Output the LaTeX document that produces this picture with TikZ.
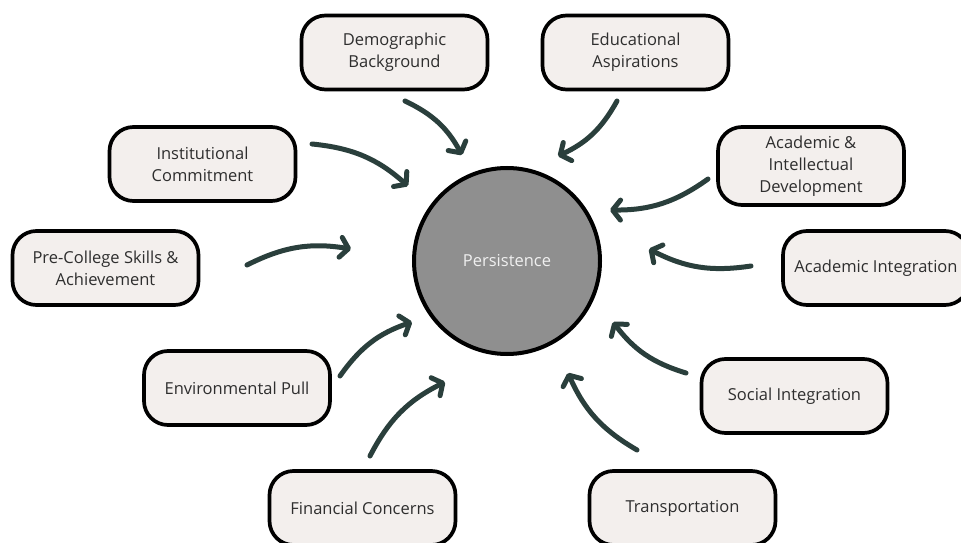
\documentclass[tikz,border=0pt]{standalone}
\usepackage{fontspec}
\setmainfont{Open Sans}
\usetikzlibrary{arrows.meta}
\definecolor{boxfill}{HTML}{F3EFED}
\definecolor{arrowc}{HTML}{2A3F3C}
\definecolor{txt}{HTML}{2E2E2E}
\definecolor{circfill}{HTML}{8F8F8F}
\begin{document}
\begin{tikzpicture}[x=1pt,y=1pt,
  factor/.style={draw=black, line width=3.7pt, fill=boxfill, rounded corners=24pt,
    minimum width=186pt, minimum height=74pt, align=center, text=txt,
    font=\fontsize{16.5}{22}\selectfont, inner sep=0pt},
  flow/.style={draw=arrowc, line width=5pt, line cap=round,
    -{Straight Barb[length=8pt,width=20pt,round]}},
]
\useasboundingbox (0,0) rectangle (961,542);
\clip (0,0) rectangle (961,542);
% centre
\node[circle, draw=black, line width=4pt, fill=circfill, minimum size=186pt,
  text=white!94!black, font=\fontsize{16.5}{20}\selectfont] (p) at (507,281) {Persistence};
% factors (y = 542 - screen y)
\node[factor] (demo) at (394.5,489.5) {Demographic\\Background};
\node[factor] (edu) at (635.5,489.5) {Educational\\Aspirations};
\node[factor] (inst) at (202.5,378) {Institutional\\Commitment};
\node[factor, minimum height=78pt] (acad) at (811,376) {Academic \&\\Intellectual\\Development};
\node[factor] (pre) at (105.5,274) {Pre-College Skills \&\\Achievement};
\node[factor] (aint) at (876,274) {Academic Integration};
\node[factor] (env) at (237,154) {Environmental Pull};
\node[factor] (soc) at (794.5,146) {Social Integration};
\node[factor] (fin) at (362.5,34) {Financial Concerns};
\node[factor] (trans) at (682.5,34) {Transportation};
% arrow ends
\coordinate (demoS) at (405,441);  \coordinate (demoE) at (462,387);
\coordinate (eduS) at (617,441);   \coordinate (eduE) at (558,386);
\coordinate (instS) at (312,398);  \coordinate (instE) at (408,356);
\coordinate (acadS) at (708,363);  \coordinate (acadE) at (610,332);
\coordinate (preS) at (247,277);   \coordinate (preE) at (351,293);
\coordinate (aintS) at (751,276);  \coordinate (aintE) at (649,293);
\coordinate (envS) at (340,166);   \coordinate (envE) at (412,220);
\coordinate (socS) at (686,169);   \coordinate (socE) at (613,220);
\coordinate (finS) at (370,86);    \coordinate (finE) at (445,160);
\coordinate (transS) at (637,92);  \coordinate (transE) at (568,169);
\foreach \a in {demo,edu,inst,acad,pre,aint,env,soc,fin,trans}{
  \draw[flow] (\a S) to[bend left=18] (\a E);
}
\end{tikzpicture}
\end{document}
